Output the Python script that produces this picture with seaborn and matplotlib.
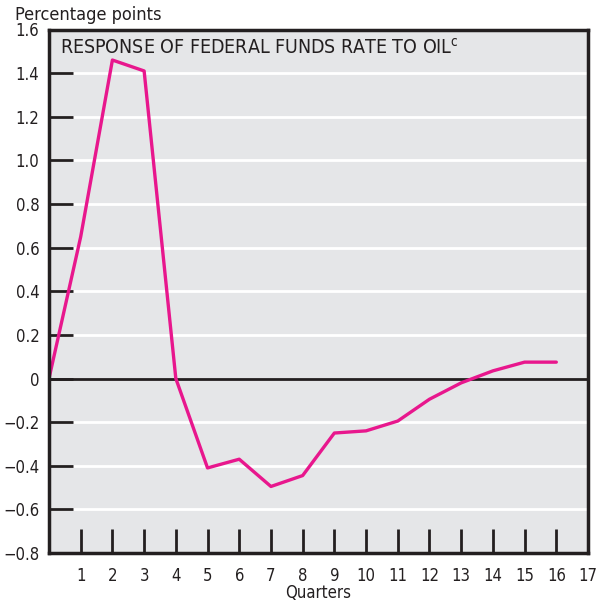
import matplotlib
matplotlib.use("Agg")
import matplotlib.pyplot as plt
import seaborn as sns
import pandas as pd

quarters = list(range(0, 17))
response = [0.0, 0.65, 1.46, 1.41, 0.0, -0.41, -0.37, -0.495, -0.445, -0.25,
            -0.24, -0.195, -0.095, -0.02, 0.035, 0.075, 0.075]
x_ticks = list(range(1, 18))
y_ticks = [-0.8, -0.6, -0.4, -0.2, 0, 0.2, 0.4, 0.6, 0.8, 1.0, 1.2, 1.4, 1.6]
y_labels = ["\u22120.8", "\u22120.6", "\u22120.4", "\u22120.2", "0", "0.2", "0.4",
            "0.6", "0.8", "1.0", "1.2", "1.4", "1.6"]

sns.set_theme(style="white")
plt.rcParams['font.family'] = ['DejaVu Sans']
plt.rcParams['font.stretch'] = 'condensed'

df = pd.DataFrame({"Quarter": quarters, "Response": response})

fig = plt.figure(figsize=(6.08, 6.03), dpi=100)
ax = fig.add_axes([49/608, 50/603, (588-49)/608, (553-29.5)/603])
ax.set_facecolor("#e5e6e8")
ax.set_axisbelow(False)

for y in y_ticks:
    if y != 0:
        ax.axhline(y, color="white", lw=2, zorder=1)
ax.axhline(0, color="#231f20", lw=2, zorder=2)

sns.lineplot(data=df, x="Quarter", y="Response", ax=ax, color="#e8178d", lw=2.4, zorder=3)

ax.set_xlim(0, 17)
ax.set_ylim(-0.8, 1.6)
ax.set_xticks(x_ticks)
ax.set_xticklabels([str(t) for t in x_ticks], fontsize=12, fontstretch='condensed')
ax.set_yticks(y_ticks)
ax.set_yticklabels(y_labels, fontsize=12, fontstretch='condensed')
ax.tick_params(axis="x", bottom=True, direction="in", length=17, width=2, color="#231f20",
               pad=10, labelcolor="#231f20")
ax.tick_params(axis="y", left=True, direction="in", length=17, width=2, color="#231f20",
               pad=7, labelcolor="#231f20")
ax.xaxis.get_major_ticks()[-1].tick1line.set_visible(False)
for t in ax.yaxis.get_major_ticks():
    t.tick1line.set_color("#231f20")

for s in ax.spines.values():
    s.set_color("#231f20")
    s.set_linewidth(2.5)
    s.set_visible(True)
    s.set_zorder(4)

ax.set_xlabel("")
ax.set_ylabel("")
ax.text(0.02, 0.984, "RESPONSE OF FEDERAL FUNDS RATE TO OIL$^{\\mathregular{c}}$",
        transform=ax.transAxes, fontsize=14, va="top", ha="left", color="#231f20",
        fontstretch='condensed')
fig.text(15/608, 1 - 15/603, "Percentage points", fontsize=13, va="center", ha="left",
         color="#231f20", fontstretch='condensed')
fig.text(318/608, 1 - 593/603, "Quarters", fontsize=12, va="center", ha="center",
         color="#231f20", fontstretch='condensed')

fig.savefig("out.png", dpi=100)
